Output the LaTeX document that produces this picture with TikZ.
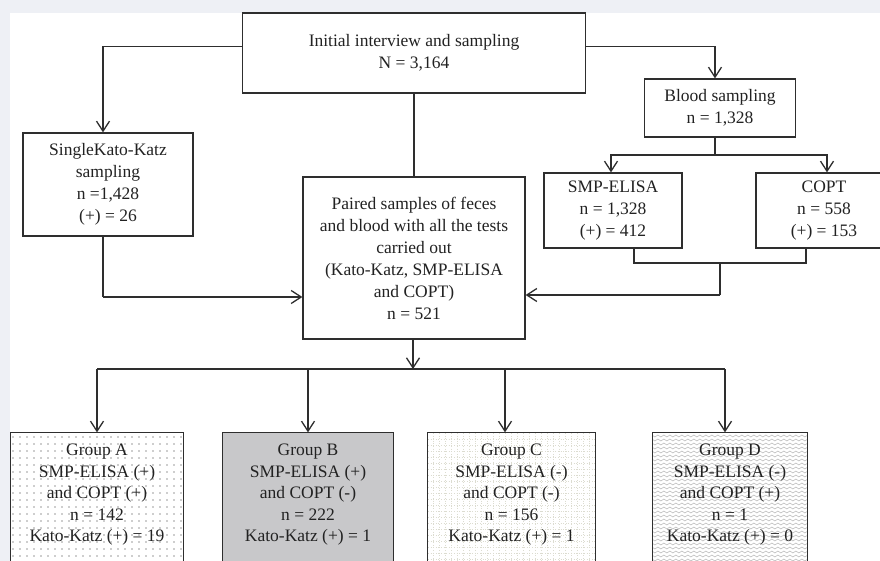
\documentclass[tikz,border=0pt]{standalone}
\usepackage{fontspec}
\setmainfont{Liberation Serif}
\usetikzlibrary{arrows.meta,calc,decorations.pathmorphing}
\definecolor{bgc}{HTML}{EEF0F5}
\definecolor{ln}{HTML}{2E2E2E}
\definecolor{txt}{HTML}{222222}
\definecolor{grayB}{HTML}{C8C8CA}
\definecolor{gridc}{HTML}{DCDCD0}
\begin{document}
\begin{tikzpicture}[x=1pt,y=-1pt,
  box/.style={draw=ln,line width=1.3pt,align=center,inner sep=0pt,
    font=\fontsize{17.5}{22}\selectfont,text=txt},
  gbox/.style={line width=1.3pt,inner sep=0pt,minimum height=130pt},
  gtext/.style={align=center,inner sep=0pt,font=\fontsize{17.5}{21.5}\selectfont,text=txt},
  con/.style={draw=ln,line width=1.3pt},
  arr/.style={draw=ln,line width=1.3pt,-{Straight Barb[length=10pt,width=13pt,line width=1.3pt]}}]
\useasboundingbox (0,0) rectangle (880,561);
\fill[bgc] (0,0) rectangle (880,561);
\fill[white] (10,13) rectangle (880,561);
\begin{scope}
\clip (0,0) rectangle (880,561);
% top boxes
\node[box,minimum width=343pt,minimum height=80pt] (init) at (414,53) {Initial interview and sampling\\N = 3,164};
\node[box,minimum width=170pt,minimum height=103pt] (single) at (108,184.5) {SingleKato-Katz\\sampling\\n =1,428\\(+) = 26};
\node[box,minimum width=222pt,minimum height=162pt] (paired) at (414,258) {Paired samples of feces\\and blood with all the tests\\carried out\\(Kato-Katz, SMP-ELISA\\and COPT)\\n = 521};
\node[box,minimum width=151pt,minimum height=58pt] (blood) at (720,108) {Blood sampling\\n = 1,328};
\node[box,minimum width=138pt,minimum height=75pt] (smp) at (613,210.5) {SMP-ELISA\\n = 1,328\\(+) = 412};
\node[box,minimum width=136pt,minimum height=75pt] (copt) at (824,210.5) {COPT\\n = 558\\(+) = 153};
% group boxes (outlines drawn later)
\node[gbox,minimum width=172pt] (gA) at (97,498) {};
\node[gbox,minimum width=170pt,fill=grayB] (gB) at (308,498) {};
\node[gbox,minimum width=167pt] (gC) at (511.5,498) {};
\node[gbox,minimum width=154pt] (gD) at (730,498) {};
% patterns
\begin{scope}
\clip (gA.north west) rectangle (gA.south east);
\foreach \i in {0,...,25} \foreach \j in {0,...,19}
  \fill[ln] (13+\i*7, 437+\j*7) circle (0.65pt);
\end{scope}
\begin{scope}
\clip (gC.north west) rectangle (gC.south east);
\foreach \i in {0,...,26} \draw[gridc,dotted,line width=0.6pt] (433+\i*6,433) -- (433+\i*6,565);
\foreach \j in {0,...,21} \draw[gridc,dotted,line width=0.6pt] (428,439+\j*6) -- (595,439+\j*6);
\end{scope}
\begin{scope}
\clip (gD.north west) rectangle (gD.south east);
\foreach \k in {0,...,33}
  \draw[gray!60,line width=0.5pt,decorate,decoration={snake,segment length=6pt,amplitude=1pt}] (650,436+\k*4) -- (812,436+\k*4);
\end{scope}
\foreach \g in {gA,gB,gC,gD}
  \draw[ln,solid,line width=1.3pt] (\g.north west) rectangle (\g.south east);
\node[gtext] (tA) at (97,495) {Group A\\SMP-ELISA (+)\\and COPT (+)\\n = 142\\Kato-Katz (+) = 19};
\node[gtext] (tB) at (308,495) {Group B\\SMP-ELISA (+)\\and COPT (-)\\n = 222\\Kato-Katz (+) = 1};
\node[gtext] (tC) at (511.5,495) {Group C\\SMP-ELISA (-)\\and COPT (-)\\n = 156\\Kato-Katz (+) = 1};
\node[gtext] (tD) at (730,495) {Group D\\SMP-ELISA (-)\\and COPT (+)\\n = 1\\Kato-Katz (+) = 0};
% connectors
\coordinate (ly) at (0,46.5);
\coordinate (lx) at (103,0);
\coordinate (rx) at (715,0);
\draw[arr] (init.west |- ly) -| (single.north -| lx);
\draw[arr] (init.east |- ly) -| (blood.north -| rx);
\draw[con] (init.south) -- (paired.north);
\coordinate (bs) at (715,155);
\draw[con] (blood.south -| bs) -- (bs);
\coordinate (sx) at (611,0);
\coordinate (cx) at (827,0);
\draw[arr] (bs) -| (smp.north -| sx);
\draw[arr] (bs) -| (copt.north -| cx);
\coordinate (b1) at ($(smp.south)+(21,0)$);
\coordinate (b2) at ($(copt.south)+(-18,0)$);
\coordinate (bm) at (720,263);
\draw[con] (b1) |- (bm) -| (b2);
\coordinate (bl) at (720,295);
\draw[con] (bm) -- (bl);
\draw[arr] (bl) -- (paired.east |- bl);
\coordinate (sl) at (103,297);
\draw[con] (single.south -| sl) -- (sl);
\draw[arr] (sl) -- (paired.west |- sl);
\coordinate (gl) at (413,369);
\draw[arr] (paired.south -| gl) -- (gl);
\coordinate (glA) at (gA.north |- gl);
\coordinate (glD) at (725,369);
\draw[con] (glA) -- (glD);
\draw[arr] (glA) -- (gA.north);
\draw[arr] (gB.north |- gl) -- (gB.north);
\coordinate (gcx) at (505,0);
\draw[arr] (gl -| gcx) -- (gC.north -| gcx);
\draw[arr] (glD) -- (gD.north -| glD);
\end{scope}
\end{tikzpicture}
\end{document}
